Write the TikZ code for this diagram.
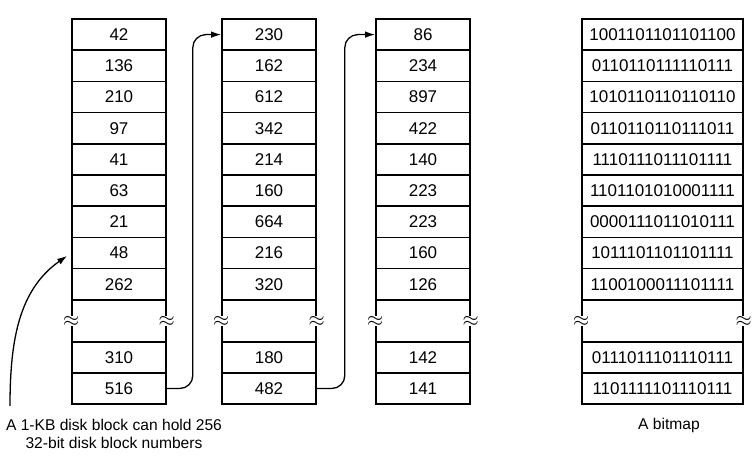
\documentclass[tikz,border=0pt]{standalone}
\usepackage{fontspec}
\setmainfont{Liberation Sans}
\usepackage{xcolor}
\usepackage{tikz}
\usetikzlibrary{arrows.meta}

\begin{document}
\begin{tikzpicture}[x=1pt, y=-1pt,
        cell/.style={draw, line width=1.6pt, minimum height=31.2pt,
                     inner sep=0pt, font=\fontsize{17}{20}\selectfont},
        gap/.style={cell, minimum height=42pt},
        brk/.style={fill=white, inner sep=0.4pt, font=\fontsize{22}{22}\selectfont},
        arr/.style={-{Latex[length=10pt, width=6.5pt]}, line width=1.3pt},
        link/.style={arr, rounded corners=13pt},
        lbl/.style={align=center, font=\fontsize{15.6}{18.5}\selectfont}
    ]
        \useasboundingbox (0,0) rectangle (756,465);

        % first index block
        \foreach \v [count=\i] in {42,136,210,97,41,63,21,48,262}
            \node[cell, minimum width=94pt] (a\i) at (119,{19+31.2*\i-15.6}) {\v};
        \node[gap, minimum width=94pt] (a10) at (119,321) {};
        \node[cell, minimum width=94pt] (a11) at (119,357.5) {310};
        \node[cell, minimum width=94pt] (a12) at (119,388.5) {516};

        % second index block
        \foreach \v [count=\i] in {230,162,612,342,214,160,664,216,320}
            \node[cell, minimum width=94pt] (b\i) at (269,{19+31.2*\i-15.6}) {\v};
        \node[gap, minimum width=94pt] (b10) at (269,321) {};
        \node[cell, minimum width=94pt] (b11) at (269,357.5) {180};
        \node[cell, minimum width=94pt] (b12) at (269,388.5) {482};

        % third index block
        \foreach \v [count=\i] in {86,234,897,422,140,223,223,160,126}
            \node[cell, minimum width=94pt] (c\i) at (423,{19+31.2*\i-15.6}) {\v};
        \node[gap, minimum width=94pt] (c10) at (423,321) {};
        \node[cell, minimum width=94pt] (c11) at (423,357.5) {142};
        \node[cell, minimum width=94pt] (c12) at (423,388.5) {141};

        % bitmap
        \foreach \v [count=\i] in {1001101101101100,0110110111110111,1010110110110110,
                                   0110110110111011,1110111011101111,1101101010001111,
                                   0000111011010111,1011101101101111,1100100011101111}
            \node[cell, minimum width=161pt] (m\i) at (662.5,{19+31.2*\i-15.6}) {\v};
        \node[gap, minimum width=161pt] (m10) at (662.5,321) {};
        \node[cell, minimum width=161pt] (m11) at (662.5,357.5) {0111011101110111};
        \node[cell, minimum width=161pt] (m12) at (662.5,388.5) {1101111101110111};

        % break marks
        \foreach \n in {a10,b10,c10,m10} {
            \node[brk] at (\n.west) {$\approx$};
            \node[brk] at (\n.east) {$\approx$};
        }

        % chaining arrows
        \draw[link] (a12.east) -- ++(26,0) |- (b1.west);
        \draw[link] (b12.east) -- ++(28,0) |- (c1.west);

        % labels
        \node[lbl] (capt) at (114,434) {A 1-KB disk block can hold 256\\32-bit disk block numbers};
        \node[lbl] (bmap) at (669,425) {A bitmap};
        \coordinate (tail) at (10,406);
        \draw[arr, shorten >=5pt] (tail) to[out=90, in=215] (a8.west);
    \end{tikzpicture}
\end{document}
